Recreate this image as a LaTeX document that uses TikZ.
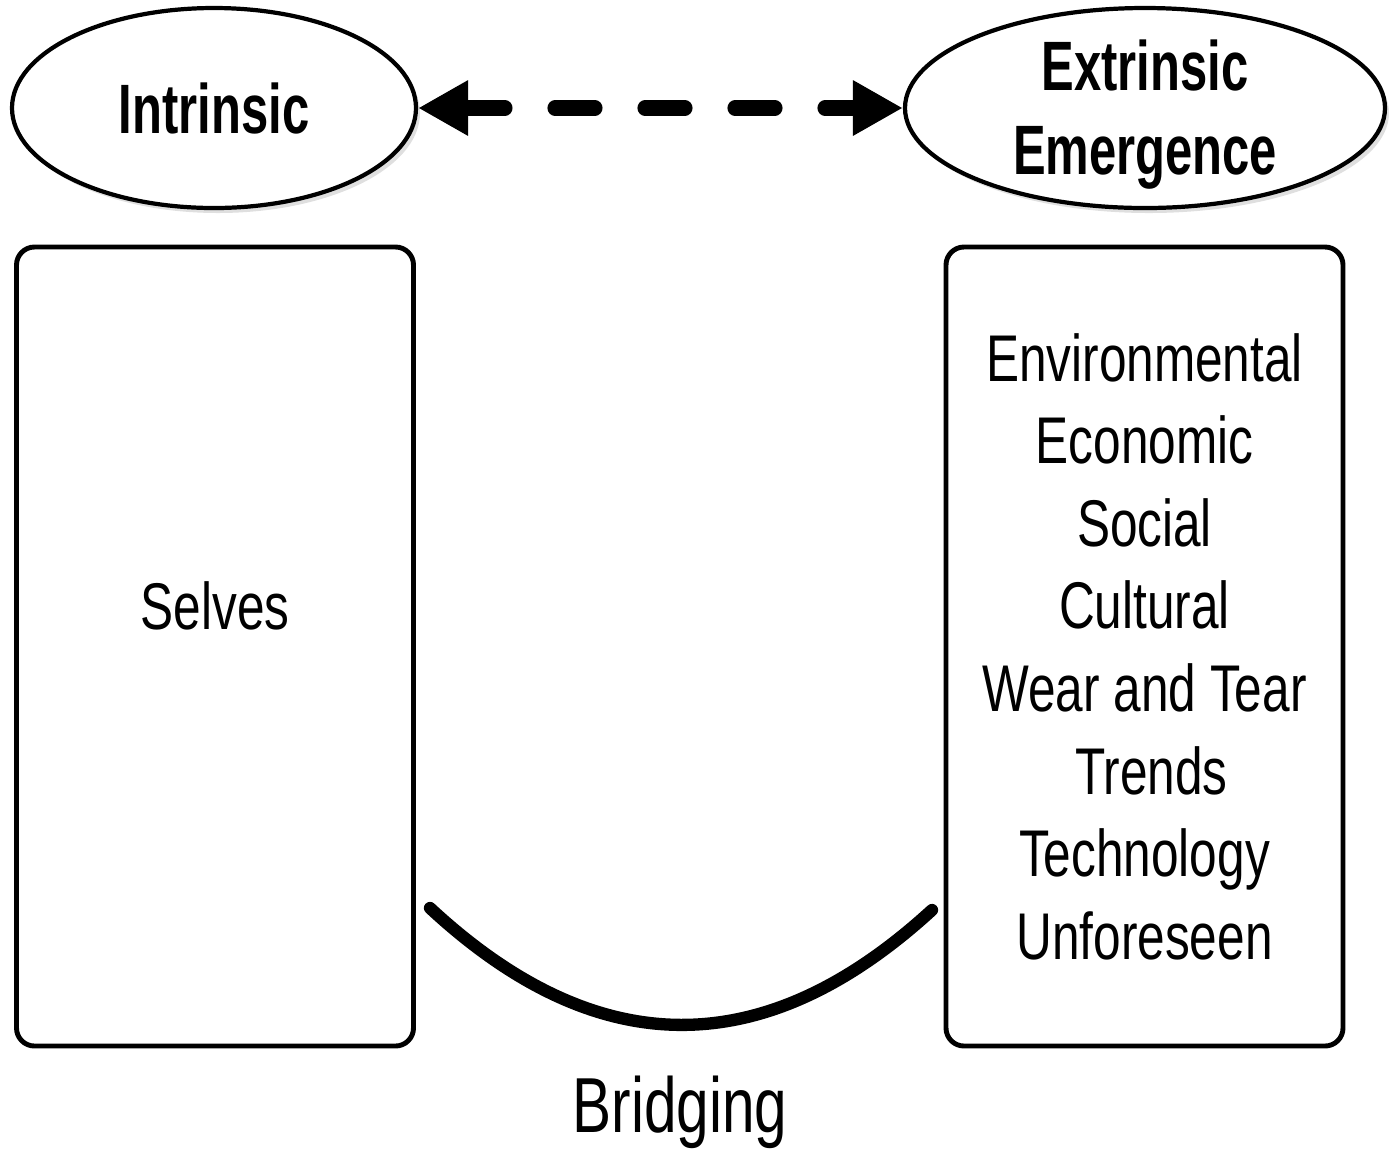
\documentclass[tikz,border=0pt]{standalone}
\usepackage{fontspec}
\setmainfont{Liberation Sans}[FakeStretch=0.75]
\newfontfamily\titlefont{Liberation Sans}[FakeStretch=0.7]
\usetikzlibrary{shapes.geometric,arrows.meta,shadows}
\tikzset{
  oval/.style={ellipse,draw,line width=1.2pt,fill=white,inner sep=0pt,minimum height=2cm,
    drop shadow={shadow xshift=0.04cm,shadow yshift=-0.05cm,opacity=0.25}},
  title/.style={align=center,font=\titlefont\bfseries\fontsize{19.9}{23.9}\selectfont},
  panel/.style={draw,line width=1.4pt,rounded corners=0.18cm,minimum width=3.97cm,minimum height=7.99cm,
    inner sep=0pt,align=center,font=\fontsize{18.8}{23.5}\selectfont},
  label/.style={font=\fontsize{18.8}{23.5}\selectfont}
}
\begin{document}
\begin{tikzpicture}
\useasboundingbox (0,0) rectangle (13.89,-11.48);
\node[oval,minimum width=4.04cm] (intr) at (2.14,-1.08) {};
\node[title] (intrtext) at (2.14,-1.08) {Intrinsic};
\node[oval,minimum width=4.8cm] (extr) at (11.45,-1.08) {};
\node[title] (extrtext) at (11.45,-1.15) {Extrinsic\\Emergence};
\draw[line width=4.3pt,line cap=round,dash pattern=on 0.4cm off 0.5cm,{Triangle[length=0.5cm,width=0.52cm]}-{Triangle[length=0.5cm,width=0.52cm]}] (intr.east) -- (extr.west);
\node[panel] (selfbox) at (2.15,-6.465) {};
\node[label] (selves) at (2.15,-6.06) {Selves};
\node[panel] (forces) at (11.445,-6.465) {Environmental\\Economic\\Social\\Cultural\\Wear and Tear\\\hspace*{0.14cm}Trends\\Technology\\Unforeseen};
\coordinate (bridgeL) at (4.30,-9.08);
\coordinate (bridgeR) at (9.32,-9.10);
\draw[line width=3.5pt,line cap=round] (bridgeL) .. controls (5.97,-10.63) and (7.64,-10.64) .. (bridgeR);
\node[anchor=base,font=\fontsize{22.2}{26}\selectfont] (bridging) at (6.80,-11.32) {Bridging};
\end{tikzpicture}
\end{document}
